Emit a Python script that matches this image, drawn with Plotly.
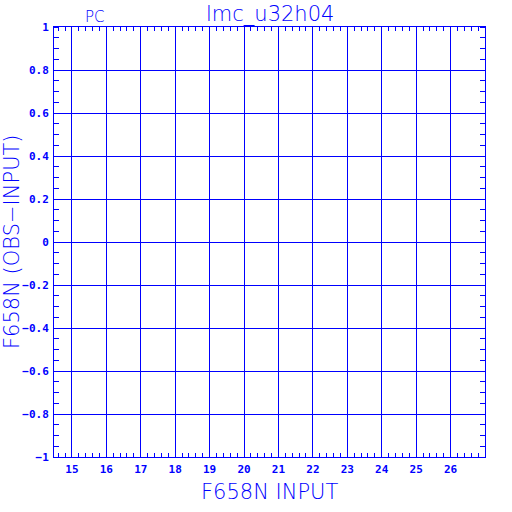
import plotly.graph_objects as go

# Data (the reference shows an empty frame: no plotted points)
x_values = []
y_values = []
x_tick_vals = [15, 16, 17, 18, 19, 20, 21, 22, 23, 24, 25, 26]
x_tick_text = [str(v) for v in x_tick_vals]
y_tick_vals = [-1, -0.8, -0.6, -0.4, -0.2, 0, 0.2, 0.4, 0.6, 0.8, 1]
y_tick_text = ["\u22121", "\u22120.8", "\u22120.6", "\u22120.4", "\u22120.2", "0",
               "0.2", "0.4", "0.6", "0.8", "1"]
title_text = "lmc_u32h04"
corner_text = "PC"
x_title = "F658N INPUT"
y_title = "F658N (OBS\u2212INPUT)"

BLUE = "#0000ff"
tick_font = dict(family="DejaVu Sans Mono", size=11, color=BLUE, weight="bold")
label_font = dict(family="DejaVu Sans", size=21, color=BLUE, weight=200)

fig = go.Figure()
fig.add_trace(go.Scatter(x=x_values, y=y_values, mode="markers",
                         marker=dict(color=BLUE, size=4), showlegend=False))

fig.update_layout(
    width=512, height=512,
    margin=dict(l=54, r=27, t=27, b=55, autoexpand=False),
    paper_bgcolor="white", plot_bgcolor="white",
    showlegend=False,
)

fig.update_xaxes(
    range=[14.48, 27.0], tickmode="array", tickvals=x_tick_vals, ticktext=x_tick_text,
    showgrid=True, gridcolor=BLUE, gridwidth=1, zeroline=False,
    showline=True, linecolor=BLUE, linewidth=1, mirror="allticks",
    ticks="", tickfont=tick_font, ticklabelstandoff=2,
    minor=dict(dtick=0.2, tick0=15, ticks="inside", ticklen=4, tickcolor=BLUE, showgrid=False),
)
fig.update_yaxes(
    range=[-1, 1], tickmode="array", tickvals=y_tick_vals, ticktext=y_tick_text,
    showgrid=True, gridcolor=BLUE, gridwidth=1, zeroline=False,
    showline=True, linecolor=BLUE, linewidth=1, mirror="allticks",
    ticks="", tickfont=tick_font, ticklabelstandoff=2,
    minor=dict(dtick=0.05, tick0=0, ticks="inside", ticklen=5, tickcolor=BLUE, showgrid=False),
)

fig.add_annotation(x=0.5, y=1, xref="paper", yref="paper", xanchor="center", yanchor="bottom",
                   yshift=-1, text=title_text, showarrow=False, font=label_font)
fig.add_annotation(x=0.096, y=1, xref="paper", yref="paper", xanchor="center", yanchor="bottom",
                   yshift=-1, text=corner_text, showarrow=False,
                   font=dict(family="DejaVu Sans", size=15, color=BLUE, weight=200))
fig.add_annotation(x=0.5, y=0, xref="paper", yref="paper", xanchor="center", yanchor="top",
                   yshift=-21, text=x_title, showarrow=False, font=label_font)
fig.add_annotation(x=0, y=0.5, xref="paper", yref="paper", xanchor="right", yanchor="middle",
                   xshift=-28, text=y_title, showarrow=False, textangle=-90, font=label_font)

fig.write_html("out.html", config={"displayModeBar": False},
               post_script="document.body.style.margin='0';")
